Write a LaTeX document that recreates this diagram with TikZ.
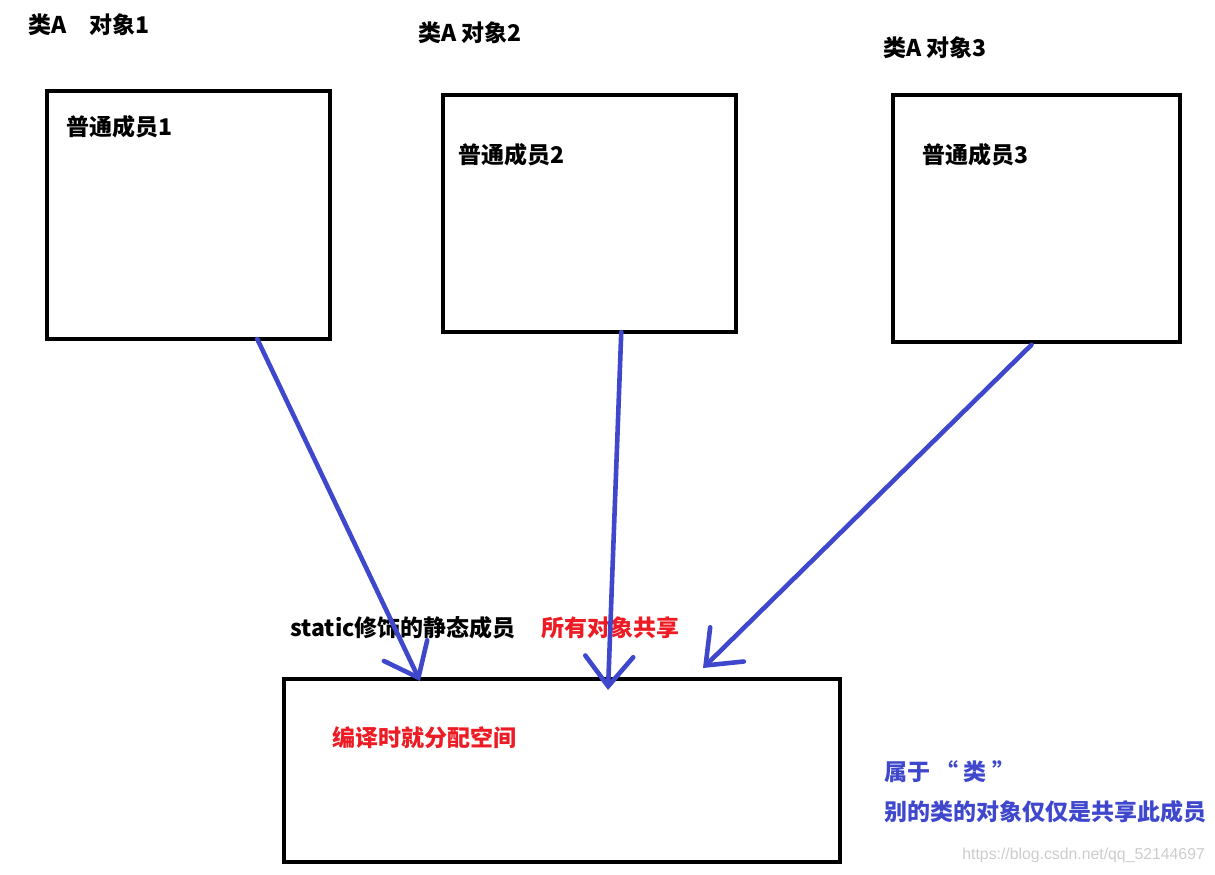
\documentclass[tikz,border=0pt]{standalone}
\usepackage{fontspec}
\setmainfont{Noto Sans CJK SC}
\newfontfamily\urlfont{Liberation Sans}
\usetikzlibrary{arrows.meta,positioning}
\definecolor{paintblue}{RGB}{63,72,204}
\definecolor{paintred}{RGB}{237,28,36}

\begin{document}
\begin{tikzpicture}[x=0.5pt, y=-0.5pt,
font=\bfseries\fontsize{11.5pt}{13pt}\selectfont,
obj/.style={draw, line width=2.2pt, inner sep=0pt, outer sep=0pt},
txt/.style={anchor=west, inner sep=0pt},
link/.style={draw=paintblue, line width=2.3pt, line cap=round,
-{Straight Barb[length=15pt,width=24pt,line cap=round]}}]
\useasboundingbox (0,0) rectangle (1215,874);
% objects of class A
\node [obj, minimum width=141.5pt, minimum height=124pt] (obj1) at (188.5,215) {};
\node [obj, minimum width=146.5pt, minimum height=118.5pt] (obj2) at (589.5,213.5) {};
\node [obj, minimum width=143.5pt, minimum height=123.5pt] (obj3) at (1036.5,218.5) {};
\node [obj, minimum width=278pt, minimum height=91.5pt] (static) at (562,770.5) {};
\node [txt] (name1) at (28,25) {类A　对象1};
\node [txt] (name2) at (418,33) {类A 对象2};
\node [txt] (name3) at (883,48) {类A 对象3};
\node [txt] (mem1) at (66,127) {普通成员1};
\node [txt] (mem2) at (458,155) {普通成员2};
\node [txt] (mem3) at (922,155) {普通成员3};
% static member
\node [txt] (stat) at (290,628) {static修饰的静态成员};
\node [txt, text=paintred] (share) at (541,628) {所有对象共享};
\node [txt, text=paintred] (alloc) at (332,738) {编译时就分配空间};
\node [txt, text=paintblue] (belong) at (884,772) {属于 “ 类 ”};
\node [txt, text=paintblue] (other) at (884,812) {别的类的对象仅仅是共享此成员};
\node [txt, text=gray!40, font=\urlfont\fontsize{7.9pt}{9pt}\selectfont] (mark) at (962,855) {https://blog.csdn.net/qq\_52144697};
\coordinate (tip1) at (420,681);
\coordinate (tip2) at (608,690);
\coordinate (tip3) at (703,668);
\draw [link] (obj1.-61) -- (tip1);
\draw [link] (obj2.-75) -- (tip2);
\draw [link, shorten <=2pt] (obj3.-91) -- (tip3);
\end{tikzpicture}
\end{document}
